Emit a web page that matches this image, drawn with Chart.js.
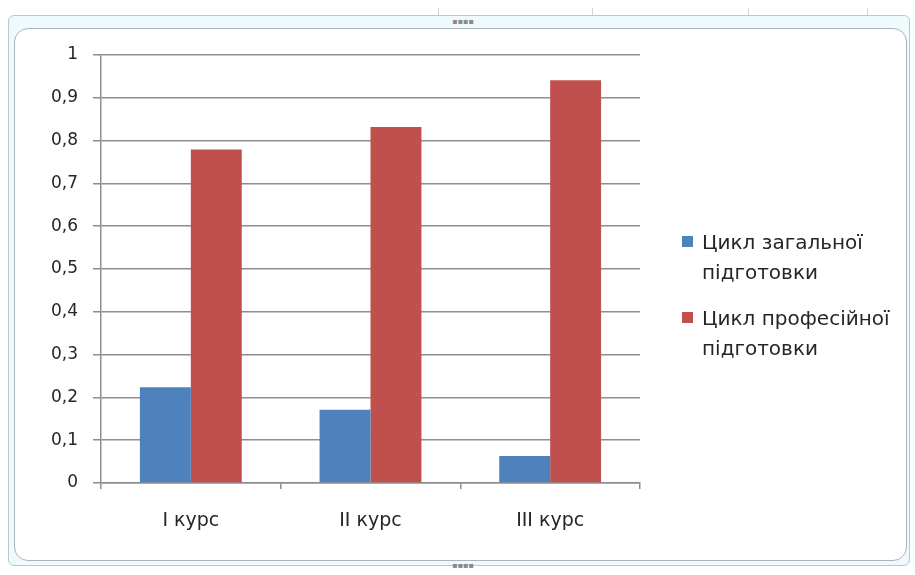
<!DOCTYPE html>
<html><head><meta charset="utf-8">
<script src="https://cdn.jsdelivr.net/npm/chart.js@4"></script>
<style>
html,body{margin:0;padding:0;background:#fff;width:915px;height:575px;overflow:hidden;font-family:"DejaVu Sans",sans-serif;}
#outer{position:absolute;left:8px;top:15px;width:902px;height:551px;border:1px solid #b7c7d3;border-radius:6px;background:#eefafc;box-sizing:border-box;}
#inner{position:absolute;left:14px;top:28px;width:893px;height:533px;border:1px solid #aab4bc;border-radius:14px;background:#fff;box-sizing:border-box;}
.vl{position:absolute;top:8px;width:1px;height:20px;background:#c9d3e6;}
.dots{position:absolute;font-size:8px;color:#8a8a8a;line-height:8px;}
#wrap{position:absolute;left:0;top:0;width:915px;height:575px;}
#legend{position:absolute;left:682px;top:227px;color:#262626;font-size:20px;line-height:30px;}
.item{position:relative;padding-left:20px;margin-bottom:16px;}
.sw{position:absolute;left:0;top:9px;width:11px;height:11px;}
</style></head>
<body>
<div class="vl" style="left:438px"></div>
<div class="vl" style="left:592px"></div>
<div class="vl" style="left:748px"></div>
<div class="vl" style="left:867px"></div>
<div id="outer"></div>
<div id="inner"></div>
<div class="dots" style="left:452px;top:18px">▪▪▪▪</div>
<div class="dots" style="left:452px;top:562px">▪▪▪▪</div>
<div id="wrap"><canvas id="c" width="915" height="575"></canvas></div>
<div id="legend"></div>
<script>
const categories = ["I курс", "II курс", "III курс"];
const seriesNames = [["Цикл загальної", "підготовки"], ["Цикл професійної", "підготовки"]];
const generalCycle = [0.224, 0.171, 0.063];
const professionalCycle = [0.779, 0.832, 0.941];
const yTicks = [0, 0.1, 0.2, 0.3, 0.4, 0.5, 0.6, 0.7, 0.8, 0.9, 1];
const colors = ["#4f81bd", "#c0504d"];

const chart = new Chart(document.getElementById('c'), {
  type: 'bar',
  data: {
    labels: categories,
    datasets: [
      {label: seriesNames[0].join(' '), data: generalCycle, backgroundColor: colors[0], borderWidth: 0, categoryPercentage: 0.567, barPercentage: 1},
      {label: seriesNames[1].join(' '), data: professionalCycle, backgroundColor: colors[1], borderWidth: 0, categoryPercentage: 0.567, barPercentage: 1}
    ]
  },
  options: {
    responsive: false,
    animation: false,
    layout: {padding: {left: 0, top: 55, right: 275, bottom: 0}},
    plugins: {legend: {display: false}, tooltip: {enabled: false}},
    scales: {
      x: {
        grid: {drawOnChartArea: false, offset: true, color: '#8e8e8e', tickLength: 6, lineWidth: 1.5},
        border: {color: '#8e8e8e', width: 1.5},
        ticks: {color: '#262626', font: {family: "DejaVu Sans", size: 19}, padding: 21},
        afterFit: s => { s.height = 92; }
      },
      y: {
        min: 0, max: 1,
        afterBuildTicks: s => { s.ticks = yTicks.map(v => ({value: v})); },
        grid: {color: '#8e8e8e', lineWidth: 1.5, tickLength: 8},
        border: {color: '#8e8e8e', width: 1.5},
        ticks: {color: '#262626', font: {family: "DejaVu Sans", size: 17}, padding: 15,
          callback: v => String(Math.round(v * 10) / 10).replace('.', ',')},
        afterFit: s => { s.width = 101; }
      }
    }
  }
});

const lg = document.getElementById('legend');
seriesNames.forEach((lines, i) => {
  const d = document.createElement('div');
  d.className = 'item';
  d.innerHTML = '<span class="sw" style="background:' + colors[i] + '"></span>' + lines.join('<br>');
  lg.appendChild(d);
});
</script>
</body></html>
